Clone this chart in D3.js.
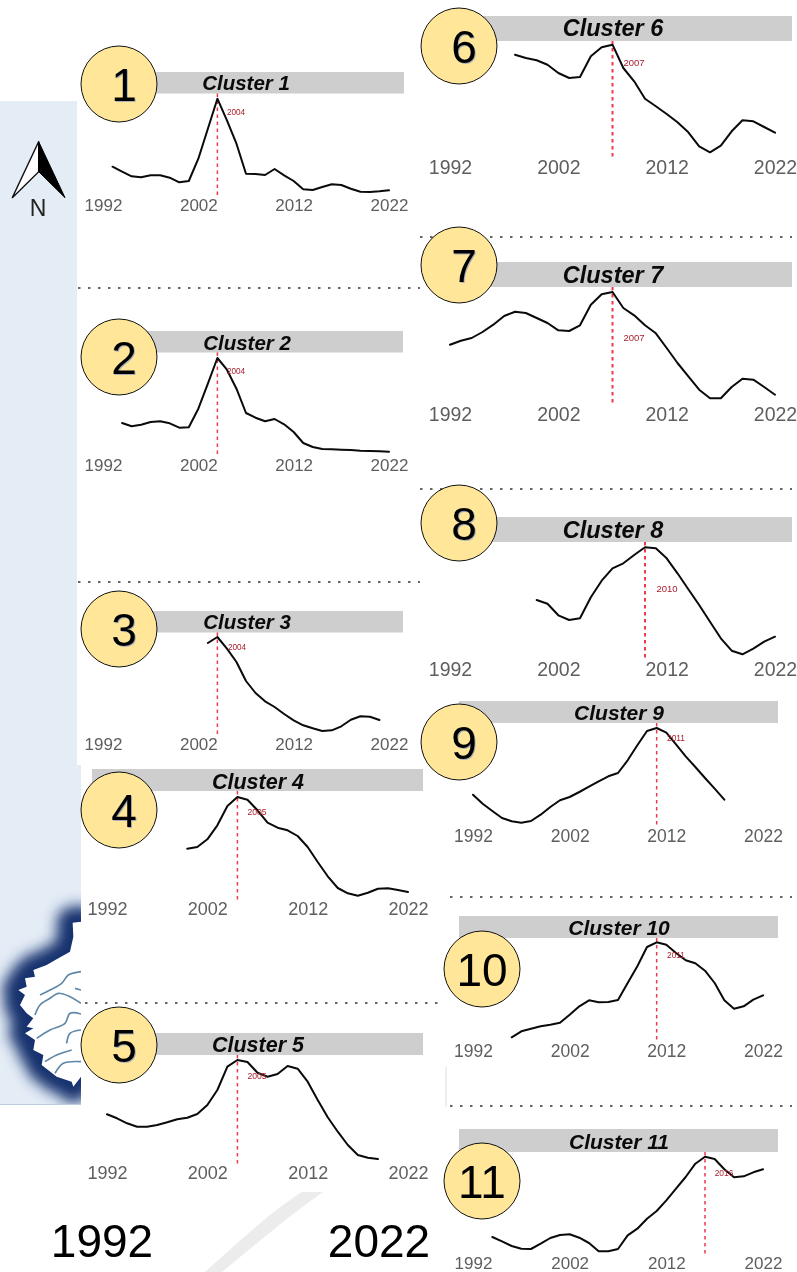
<!DOCTYPE html>
<html>
<head>
<meta charset="utf-8">
<script src="https://cdnjs.cloudflare.com/ajax/libs/d3/7.8.5/d3.min.js"></script>
<style>
html,body{margin:0;padding:0;background:#fff;}
svg{display:block;font-family:"Liberation Sans",Arial,sans-serif;}
</style>
</head>
<body>
<div id="chart"></div>
<script>
// Relative regional index per cluster, first value at the given start year
const cluster1 = [30.3,25.3,20.7,19.7,21.7,21.7,19.3,14.7,16,38.3,68.3,98.3,76.7,53.3,23.3,23,22,28,21.7,16,7.7,7,10,12.7,12,8.3,5.3,5,5.7,6.7];
const cluster2 = [34,30.7,32.3,35,35.7,33.7,29.3,29.7,48.3,73.3,99,87.3,68.3,44,39.3,35.7,38,32.7,25,14,10,8,7.7,7.3,7,6.3,6,5.7,5.3];
const cluster3 = [93,99,87.3,74,55,43,34.7,29,22,15.7,10.7,7.7,5,5.7,9.7,16.3,19.7,19.3,16];
const cluster4 = [52.3,54,61.7,75.7,95,104,101.3,90.7,78.3,73.3,70.7,65,54,39,24.7,13,7.7,5.3,8.3,12.3,12.7,11,9];
const cluster5 = [49.7,45.7,40.7,37.3,37.3,39,41.7,44.7,46.3,50,59,74,97.3,104,102,91.3,87.3,90,98,95.3,82.3,64,46.7,32.3,19,9,6.3,5];
const cluster6 = [103.3,100,97.7,93.3,85,80,81,101.7,110.7,113.3,90,76.7,59.3,51.7,44,35.7,25.7,11.7,5.7,12.3,26.7,37.7,36.7,31,25.3];
const cluster7 = [59.3,63.3,66,72,79.3,88,92.3,91,86,81,73.7,73,78.7,99.3,109.7,112,96,88.7,78.7,70.7,56,41,27.7,14.3,5.7,5.7,17,25.3,24.3,17,9.3];
const cluster8 = [60,56.3,44.7,40,41.7,62.7,79.3,91.7,96.7,105,112.7,111.7,101.7,86.7,70.7,55,38.3,21.7,9.3,5.7,11.3,18.3,23.3];
const cluster9 = [33.3,24.3,17,10,6.7,5.3,7,13.3,21,27.7,31,36,41.3,46.7,51.7,55,67.7,82.7,97,100,95.3,83.7,71.7,61,50,39.3,28.3];
const cluster10 = [4.7,10.7,13.3,15.7,17.3,19.3,27.3,35.7,41.7,39.7,40,42,59,75.7,95,99.7,97.3,89,81.7,78.7,71.3,59,41.7,33.3,35.7,42.3,46.7];
const cluster11 = [20,15.7,11,8.3,8,13.3,19,22,22.7,19.3,14,5.7,5.7,8,21.7,28.3,38.3,46,56.7,68.3,80,93.3,100.3,98,87.7,79.7,80.7,84.7,87.7];

const seriesValues = [cluster1,cluster2,cluster3,cluster4,cluster5,cluster6,cluster7,cluster8,cluster9,cluster10,cluster11];
const startYears = [1993,1994,2003,2000,1992,1998,1992,2000,1992,1996,1994];
const peakYears  = [2004,2004,2004,2005,2005,2007,2007,2010,2011,2011,2016];
const clusterNames = ["Cluster 1","Cluster 2","Cluster 3","Cluster 4","Cluster 5","Cluster 6","Cluster 7","Cluster 8","Cluster 9","Cluster 10","Cluster 11"];
const badgeLabels = ["1","2","3","4","5","6","7","8","9","10","11"];
const tickYears = [1992,2002,2012,2022];
const rangeLabels = ["1992","2022"];

// Layout only, kept apart from the values
const layout = [
 {x0:103,x1:389,base:197,tick:205,tf:17,  bx:100,bw:304,by:72,  bh:21.5,cx:119,cy:84,  tx:246,ty:83,  tfs:20.5,lx:236,ly:112, lf:8.2},
 {x0:103,x1:389,base:457,tick:465,tf:17,  bx:100,bw:303,by:331, bh:21.5,cx:119,cy:357, tx:247,ty:343, tfs:20.5,lx:236,ly:371, lf:8.2},
 {x0:103,x1:389,base:736,tick:744,tf:17,  bx:100,bw:303,by:611, bh:21.5,cx:119,cy:629, tx:247,ty:622, tfs:20.5,lx:237,ly:647, lf:8.2},
 {x0:107,x1:408,base:901,tick:909,tf:18,  bx:92, bw:331,by:769, bh:22,  cx:119,cy:810, tx:258,ty:781, tfs:21.5,lx:257,ly:812, lf:8.6},
 {x0:107,x1:408,base:1164,tick:1173,tf:18,bx:120,bw:303,by:1033,bh:22,  cx:119,cy:1045,tx:258,ty:1044,tfs:21.5,lx:257,ly:1076,lf:8.6},
 {x0:450,x1:775,base:158,tick:167,tf:19.5,bx:470,bw:322,by:16,  bh:25,  cx:459,cy:46,  tx:613,ty:28,  tfs:23.5,lx:634,ly:63,  lf:9.5},
 {x0:450,x1:775,base:404,tick:414,tf:19.5,bx:470,bw:322,by:262, bh:25,  cx:459,cy:265, tx:613,ty:275, tfs:23.5,lx:634,ly:338, lf:9.5},
 {x0:450,x1:775,base:660,tick:669,tf:19.5,bx:470,bw:322,by:517, bh:25,  cx:459,cy:523, tx:613,ty:530, tfs:23.5,lx:667,ly:589, lf:9.5},
 {x0:473,x1:763,base:828,tick:836,tf:17.5,bx:459,bw:319,by:701, bh:22,  cx:459,cy:742, tx:619,ty:712, tfs:21,  lx:676,ly:738, lf:8.4},
 {x0:473,x1:763,base:1042,tick:1051,tf:17.5,bx:459,bw:319,by:916,bh:22, cx:482,cy:969, tx:619,ty:927, tfs:21,  lx:676,ly:955, lf:8.4},
 {x0:473,x1:763,base:1257,tick:1263,tf:17,bx:459,bw:319,by:1129,bh:23,cx:482,cy:1181,tx:619,ty:1141,tfs:21,  lx:724,ly:1173,lf:8.4}
];
const separators = [[78,420,288],[78,420,582],[85,442,1003],[420,792,237],[420,792,489],[450,792,897],[450,792,1106]];

const W = 797, H = 1272;
const svg = d3.select("#chart").append("svg").attr("width",W).attr("height",H).attr("viewBox",`0 0 ${W} ${H}`)
  .style("filter","blur(0.35px)");
svg.append("rect").attr("width",W).attr("height",H).attr("fill","#fff");

// ---- left map strip ----
const defs = svg.append("defs");
defs.append("clipPath").attr("id","strip").append("path").attr("d","M0,101H77V765H81V1105H0Z");
defs.append("filter").attr("id","glow").attr("filterUnits","userSpaceOnUse").attr("x",-200).attr("y",-100).attr("width",800).attr("height",900)
  .append("feGaussianBlur").attr("stdDeviation",20);
const strip = svg.append("g").attr("clip-path","url(#strip)");
strip.append("rect").attr("x",0).attr("y",101).attr("width",81).attr("height",1004).attr("fill","#e4ecf6");
const island = [[243,125],[218,128],[220,170],[210,215],[175,235],[140,255],[100,270],[105,290],[75,295],[80,320],[55,330],[75,345],[60,375],[80,400],[100,415],[80,440],[100,445],[75,460],[105,480],[100,510],[130,525],[125,555],[170,590],[215,605],[220,620],[243,590],[300,400]];
const islandPath = d3.line()(island) + "Z";
const mapG = strip.append("g").attr("transform","translate(0,880) scale(0.3333)");
mapG.append("path").attr("d",islandPath).attr("fill","#17336e").attr("stroke","#17336e").attr("stroke-width",95).attr("filter","url(#glow)").attr("stroke-linejoin","round");
mapG.append("path").attr("d",islandPath).attr("fill","#fff");
const rivers = [
 [[243,275],[205,285],[185,310],[150,330],[120,345]],
 [[243,370],[210,350],[175,340],[150,355],[120,375],[105,405]],
 [[243,402],[210,400],[195,430],[150,450],[110,475]],
 [[243,450],[210,460],[200,490]],
 [[215,510],[170,525],[135,545]],
 [[243,545],[190,550],[165,580]],
 [[243,330],[225,325]]
];
mapG.selectAll("path.river").data(rivers).join("path").attr("class","river")
  .attr("d",d3.line().curve(d3.curveCatmullRom)).attr("fill","none").attr("stroke","#5f88a8").attr("stroke-width",5);
strip.append("line").attr("x1",0).attr("x2",81).attr("y1",1104.5).attr("y2",1104.5).attr("stroke","#b9cbdc");

// ---- north arrow ----
const north = svg.append("g").attr("transform","translate(0,60) scale(0.3333)");
north.append("path").attr("d","M116,245L37,413L116,335Z").attr("fill","#fff").attr("stroke","#111").attr("stroke-width",4).attr("stroke-linejoin","round");
north.append("path").attr("d","M116,245L195,413L116,335Z").attr("fill","#000").attr("stroke","#000").attr("stroke-width",3).attr("stroke-linejoin","round");
svg.append("text").attr("x",38).attr("y",208).attr("dy","0.36em").attr("text-anchor","middle")
  .attr("font-size",23).attr("fill","#222").text("N");

// ---- faint background swoosh ----
svg.append("path").attr("d","M302,1192C270,1212 235,1245 205,1272H222C255,1245 290,1215 323,1192Z").attr("fill","#ececec");
svg.append("rect").attr("x",445).attr("y",1067).attr("width",2).attr("height",40).attr("fill","#eeeeee");

// ---- separators ----
svg.selectAll("line.sep").data(separators).join("line").attr("class","sep")
  .attr("x1",d=>d[0]).attr("x2",d=>d[1]).attr("y1",d=>d[2]).attr("y2",d=>d[2])
  .attr("stroke","#333").attr("stroke-width",1.5).attr("stroke-dasharray","2.5 7.5");

// ---- cluster panels ----
seriesValues.forEach((values,i)=>{
  const p = layout[i];
  const x = d3.scaleLinear().domain([tickYears[0],tickYears[3]]).range([p.x0,p.x1]);
  const y = d3.scaleLinear().domain([0,100]).range([p.base,p.base-100]);
  const g = svg.append("g").attr("class","panel");
  const rows = values.map((v,k)=>({year:startYears[i]+k,value:v}));

  g.append("rect").attr("x",p.bx).attr("y",p.by).attr("width",p.bw).attr("height",p.bh).attr("fill","#cecece");

  const peakTop = p.by + p.bh;
  g.append("line").attr("x1",x(peakYears[i])).attr("x2",x(peakYears[i]))
    .attr("y1",peakTop).attr("y2",p.base)
    .attr("stroke","#ee3a4c").attr("stroke-width",i>=5&&i<=7?2:1.5).attr("stroke-dasharray","3.5 3.5");

  g.append("path").datum(rows).attr("fill","none").attr("stroke","#0a0a0a").attr("stroke-width",2)
    .attr("stroke-linejoin","round").attr("stroke-linecap","round")
    .attr("d",d3.line().x(d=>x(d.year)).y(d=>y(d.value)));

  g.append("text").attr("x",p.lx).attr("y",p.ly).attr("dy","0.36em").attr("text-anchor","middle")
    .attr("font-size",p.lf).attr("fill","#a81c2c").text(peakYears[i]);

  const axis = d3.axisBottom(x).tickValues(tickYears).tickFormat(d3.format("d")).tickSize(0);
  const ag = g.append("g").attr("transform",`translate(0,${p.tick})`).call(axis);
  ag.select(".domain").remove();
  ag.selectAll("text").attr("y",0).attr("dy","0.36em").attr("font-size",p.tf)
    .attr("font-family","\"Liberation Sans\",Arial,sans-serif").attr("fill","#5e5e5e");

  g.append("text").attr("x",p.tx).attr("y",p.ty).attr("dy","0.36em").attr("text-anchor","middle")
    .attr("font-size",p.tfs).attr("font-weight","bold").attr("font-style","italic").attr("fill","#0a0a0a").text(clusterNames[i]);

  g.append("circle").attr("cx",p.cx).attr("cy",p.cy).attr("r",38).attr("fill","#ffe699").attr("stroke","#111").attr("stroke-width",1);
  const two = badgeLabels[i].length>1;
  g.append("text").attr("x",p.cx+(two?0:5)).attr("y",p.cy).attr("dy","0.36em").attr("text-anchor","middle")
    .attr("font-size",46).attr("fill","#000")
    .style("filter",two?null:"drop-shadow(1.5px 1.5px 0 #aab0bb)").text(badgeLabels[i]);
});

// ---- big range labels ----
svg.selectAll("text.range").data(rangeLabels).join("text").attr("class","range")
  .attr("x",(d,i)=>i===0?102:379).attr("y",1240).attr("dy","0.36em").attr("text-anchor","middle")
  .attr("font-size",46).attr("fill","#000").text(d=>d);
</script>
</body>
</html>
